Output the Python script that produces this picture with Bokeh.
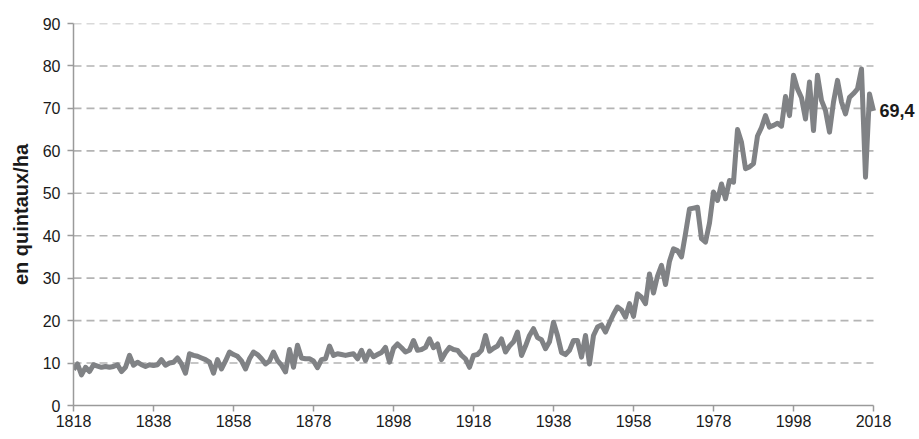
from bokeh.plotting import figure
from bokeh.models import Range1d, FixedTicker, ColumnDataSource
from bokeh.core.properties import value
from bokeh.embed import file_html
from bokeh.resources import INLINE

start_year = 1818
end_year = 2018
yields = [
    8.5, 9.8, 7.2, 9.0, 8.0, 9.6, 9.3, 9.0, 9.2, 9.0,        # 1818-1827
    9.2, 9.6, 8.0, 9.0, 11.8, 9.5, 10.2, 9.6, 9.2, 9.6,      # 1828-1837
    9.4, 9.6, 10.8, 9.5, 10.0, 10.2, 11.2, 9.8, 7.6, 12.2,   # 1838-1847
    11.8, 11.6, 11.2, 10.8, 10.2, 7.6, 10.8, 8.6, 10.5, 12.6,  # 1848-1857
    12.0, 11.6, 10.5, 8.6, 11.0, 12.6, 12.0, 11.0, 9.8, 10.5,  # 1858-1867
    12.6, 10.6, 9.5, 7.9, 13.2, 9.0, 14.2, 11.2, 11.0, 11.0,   # 1868-1877
    10.5, 8.9, 10.8, 11.0, 14.0, 11.8, 12.2, 12.0, 11.8, 12.0,  # 1878-1887
    12.2, 11.0, 13.0, 10.6, 12.8, 11.5, 12.0, 12.5, 13.7, 10.2,  # 1888-1897
    13.5, 14.5, 13.6, 12.6, 13.0, 15.3, 13.0, 13.2, 13.7, 15.7,  # 1898-1907
    13.6, 14.5, 10.8, 12.5, 13.7, 13.2, 13.0, 11.8, 11.0, 9.0,   # 1908-1917
    11.8, 12.0, 13.0, 16.5, 12.8, 13.5, 14.0, 15.7, 12.6, 14.0,  # 1918-1927
    15.0, 17.3, 11.8, 14.0, 16.5, 18.1, 16.0, 15.5, 13.4, 15.0,  # 1928-1937
    19.6, 16.5, 12.5, 12.0, 13.0, 15.3, 15.3, 11.4, 16.5, 9.8,   # 1938-1947
    16.5, 18.5, 19.0, 17.3, 19.5, 21.5, 23.2, 22.5, 20.8, 24.0,  # 1948-1957
    21.0, 26.3, 25.5, 24.0, 31.0, 26.5, 30.5, 33.0, 28.5, 34.0,  # 1958-1967
    36.9, 36.5, 35.0, 40.5, 46.3, 46.5, 46.7, 39.3, 38.5, 43.0,  # 1968-1977
    50.3, 48.3, 52.2, 48.7, 53.0, 52.6, 65.0, 62.0, 55.8, 56.2,  # 1978-1987
    57.0, 63.5, 65.5, 68.3, 65.6, 66.0, 66.5, 65.8, 72.8, 68.3,  # 1988-1997
    77.8, 74.6, 72.5, 67.5, 76.2, 64.8, 77.8, 71.9, 69.5, 64.4,  # 1998-2007
    71.5, 76.6, 71.5, 68.7, 72.6, 73.5, 74.6, 79.3, 53.8, 73.4,  # 2008-2017
    69.4,                                                        # 2018
]
years = list(range(start_year, end_year + 1))
x_ticks = list(range(1818, 2019, 20))
y_ticks = list(range(0, 91, 10))
last_label = "69,4"
y_title = "en quintaux/ha"

FONT = "Liberation Sans"
X_END = 2029  # extra room at the right for the end label

p = figure(
    frame_width=int(round(800 * (X_END - start_year) / (end_year - start_year))),
    frame_height=382,
    min_border_left=73, min_border_right=0, min_border_top=23, min_border_bottom=30,
    x_range=Range1d(start_year, X_END), y_range=Range1d(0, 90),
    output_backend="svg", toolbar_location=None,
)
p.outline_line_color = None
p.background_fill_color = "white"
p.xgrid.grid_line_color = None
p.ygrid.grid_line_color = None

# dashed horizontal gridlines limited to the data span
grid_y = y_ticks[1:]
p.segment(x0=[start_year] * len(grid_y), x1=[end_year] * len(grid_y),
          y0=grid_y, y1=grid_y, line_color="#b4b4b4", line_width=1.6,
          line_dash="8 5")

for ax in (p.xaxis, p.yaxis):
    ax.axis_line_color = "#9a9a9a"
    ax.axis_line_width = 1.5
    ax.major_tick_line_color = "#9a9a9a"
    ax.major_tick_line_width = 1.5
    ax.major_tick_out = 6
    ax.major_tick_in = 0
    ax.minor_tick_line_color = None
    ax.major_label_text_font = FONT
    ax.major_label_text_font_size = "16px"
    ax.major_label_text_color = "#1a1a1a"

p.xaxis.ticker = FixedTicker(ticks=x_ticks)
p.xaxis.bounds = (start_year, end_year)
p.xaxis.major_label_standoff = 3
p.yaxis.ticker = FixedTicker(ticks=y_ticks)
p.yaxis.major_label_standoff = 7
p.yaxis.axis_label = y_title
p.yaxis.axis_label_text_font = FONT
p.yaxis.axis_label_text_font_style = "bold"
p.yaxis.axis_label_text_font_size = "20px"
p.yaxis.axis_label_text_color = "#1a1a1a"
p.yaxis.axis_label_standoff = 8

src = ColumnDataSource(dict(x=years, y=yields))
p.line("x", "y", source=src, line_color="#808285", line_width=5, line_join="round")

p.text(x=[years[-1]], y=[yields[-1]], text=[last_label], x_offset=6,
       text_font=value(FONT), text_font_style="bold", text_font_size="18px",
       text_baseline="middle", text_align="left", text_color="#1a1a1a")

open("out.html", "w").write(file_html(p, INLINE))
